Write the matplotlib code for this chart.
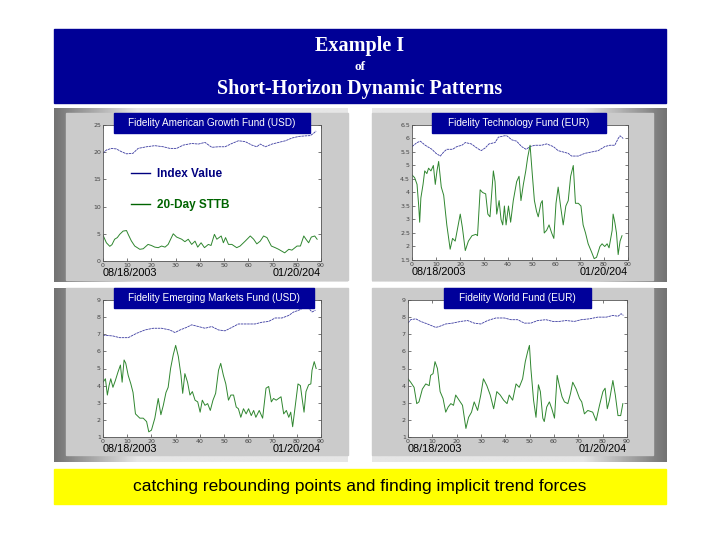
import matplotlib
matplotlib.use("Agg")
import matplotlib.pyplot as plt
import numpy as np
from matplotlib.patches import Rectangle

W, H = 720, 540

# ---- data (x = trading day index) ----
tl_idx_x = [0, 1.4, 3.5, 5.5, 7.6, 9.7, 12.4, 14.5, 18.0, 21.4, 24.9, 27.6, 30.4, 33.1, 36.6, 39.4,
            42.1, 44.9, 47.7, 50.4, 53.2, 55.9, 58.7, 61.5, 63.5, 64.9, 67.0, 69.8, 72.5, 75.3, 78.0,
            80.8, 83.6, 85.6, 87.0, 88.0]
tl_idx_y = [19.8, 20.4, 20.7, 20.6, 20.1, 19.7, 19.8, 20.7, 21.0, 21.2, 21.0, 20.7, 20.7, 21.3, 21.6,
            21.5, 21.8, 20.9, 21.0, 21.0, 21.6, 22.1, 21.95, 21.3, 21.0, 21.5, 21.0, 21.5, 21.8, 22.1,
            22.6, 22.9, 23.0, 23.05, 23.5, 23.9]
tl_sttb_x = [0, 1.4, 2.8, 3.7, 4.8, 5.9, 6.9, 8.3, 9.7, 10.4, 11.7, 13.1, 15.2, 16.6, 18.6, 20.0,
             21.4, 22.8, 24.2, 25.6, 26.9, 29.0, 30.4, 32.5, 33.8, 35.2, 36.6, 38.0, 39.1, 40.5,
             41.9, 43.5, 44.6, 46.0, 47.0, 47.9, 48.8, 49.7, 50.6, 51.8, 53.2, 55.2, 56.6, 58.7,
             60.8, 62.2, 63.5, 64.9, 66.3, 67.7, 69.5, 71.1, 72.5, 75.0, 76.7, 78.0, 80.1, 81.5,
             82.9, 83.8, 84.9, 86.0, 87.4, 88.4]
tl_sttb_y = [4.75, 3.35, 2.7, 3.0, 4.0, 4.3, 4.9, 5.5, 5.6, 4.9, 3.7, 2.75, 2.15, 2.25, 3.05, 2.85,
             2.55, 2.45, 2.75, 2.55, 3.05, 5.0, 4.4, 4.0, 3.55, 4.0, 3.05, 3.65, 2.55, 3.35, 2.45,
             3.05, 2.85, 4.9, 4.0, 4.3, 4.6, 3.35, 4.3, 3.05, 3.05, 2.45, 2.75, 3.65, 4.6, 4.0,
             3.15, 3.65, 4.6, 4.3, 2.75, 2.45, 2.15, 1.5, 2.15, 2.0, 2.75, 2.75, 4.6, 4.0, 3.35,
             4.4, 4.6, 4.0]

tr_idx_x = [0, 2.1, 3.5, 5.5, 8.3, 10.0, 11.8, 13.2, 14.5, 16.9, 18.7, 20.8, 22.2, 24.7, 27.0, 28.8,
            30.5, 32.1, 34.6, 36.0, 38.5, 39.5, 41.6, 43.6, 45.7, 47.5, 49.2, 51.2, 54.0, 56.1,
            58.9, 60.9, 63.0, 65.1, 66.5, 69.3, 72.0, 74.8, 77.6, 80.3, 82.4, 84.5, 85.9, 86.7, 88.0]
tr_idx_y = [5.7, 5.85, 5.9, 5.75, 5.6, 5.45, 5.35, 5.5, 5.6, 5.6, 5.7, 5.75, 5.85, 5.8, 5.65, 5.55,
            5.65, 5.8, 5.85, 6.05, 6.1, 6.1, 5.95, 5.9, 5.7, 5.6, 5.7, 5.75, 5.75, 5.8, 5.7, 5.55,
            5.5, 5.45, 5.35, 5.35, 5.45, 5.5, 5.55, 5.7, 5.75, 5.75, 6.0, 6.1, 6.0]
tr_sttb_x = [0, 1.1, 2.1, 2.8, 3.2, 3.7, 4.6, 5.3, 6.2, 6.9, 7.9, 8.9, 9.7, 10.4, 11.1, 12.2, 13.2,
             14.5, 15.9, 16.9, 18.0, 20.1, 21.0, 22.2, 23.5, 25.0, 26.6, 27.3, 28.4, 29.4, 30.7,
             31.6, 32.5, 33.9, 34.6, 35.3, 36.3, 37.1, 37.8, 38.5, 39.2, 40.2, 41.1, 42.2, 43.6,
             44.6, 45.4, 46.4, 47.4, 48.2, 49.2, 50.1, 51.0, 51.9, 52.6, 53.7, 54.3, 55.1, 56.1,
             57.1, 58.2, 59.1, 60.0, 60.9, 61.9, 63.0, 64.1, 65.1, 66.1, 67.2, 68.1, 69.3, 70.4,
             71.3, 72.3, 73.4, 74.8, 75.9, 76.9, 78.3, 79.2, 80.3, 81.3, 82.1, 82.8, 83.4, 83.8,
             84.5, 85.2, 85.9, 86.7, 87.5]
tr_sttb_y = [4.65, 4.55, 4.3, 3.5, 2.9, 3.8, 4.3, 4.8, 4.7, 4.9, 4.8, 5.0, 4.3, 4.8, 5.15, 4.2, 3.9,
             2.8, 1.9, 2.3, 2.2, 3.2, 2.7, 1.85, 2.2, 2.4, 2.45, 2.4, 4.1, 4.0, 3.95, 3.2, 3.1,
             4.8, 4.4, 3.2, 3.7, 3.0, 2.8, 3.5, 2.8, 3.5, 2.9, 3.7, 4.4, 4.6, 3.7, 4.3, 4.8, 5.3,
             5.75, 4.7, 3.7, 3.3, 3.1, 3.6, 3.7, 2.5, 2.6, 2.8, 2.5, 2.3, 3.6, 4.2, 3.5, 2.8, 3.5,
             3.7, 4.6, 5.0, 3.6, 3.6, 3.5, 2.8, 2.5, 2.1, 1.8, 1.55, 1.6, 2.0, 2.1, 2.0, 2.1, 1.95,
             2.3, 2.6, 3.2, 2.9, 2.5, 1.7, 2.2, 2.4]

bl_idx_x = [0, 4.1, 6.9, 10.4, 13.8, 17.3, 20.7, 24.2, 27.6, 29.7, 31.8, 34.5, 36.6, 39.4, 42.1,
            44.9, 47.7, 50.4, 53.2, 55.9, 59.4, 62.8, 65.6, 68.4, 71.1, 73.9, 76.7, 78.7, 80.8,
            82.9, 85.0, 86.3, 87.7]
bl_idx_y = [6.95, 6.9, 6.8, 6.8, 7.05, 7.25, 7.35, 7.35, 7.25, 7.1, 7.25, 7.4, 7.55, 7.45, 7.35,
            7.45, 7.25, 7.2, 7.4, 7.6, 7.6, 7.6, 7.7, 7.75, 7.95, 7.95, 8.1, 8.3, 8.4, 8.55, 8.5,
            8.3, 8.4]
bl_sttb_x = [0, 1.0, 1.8, 2.5, 3.2, 4.1, 5.1, 6.2, 7.2, 7.9, 8.7, 9.4, 10.4, 11.5, 12.4, 13.4,
             15.2, 16.6, 18.0, 18.9, 20.0, 21.4, 22.8, 23.9, 24.9, 26.0, 26.9, 27.9, 29.0, 30.0,
             31.1, 32.2, 32.9, 33.8, 34.9, 35.9, 36.9, 38.0, 39.1, 40.1, 41.0, 42.1, 43.2, 44.3,
             45.4, 46.5, 47.7, 48.6, 49.7, 50.7, 51.8, 52.8, 53.9, 55.0, 55.9, 56.9, 58.0, 59.1,
             60.1, 61.2, 62.2, 63.1, 64.5, 65.9, 67.3, 68.4, 69.5, 70.4, 71.5, 72.5, 73.5, 74.6,
             75.7, 76.7, 77.5, 78.3, 79.4, 80.5, 81.5, 82.2, 83.0, 83.8, 84.9, 85.8, 86.3, 87.2, 88.0]
bl_sttb_y = [4.2, 4.4, 3.45, 4.0, 4.4, 3.9, 4.3, 4.8, 5.2, 4.2, 5.5, 5.3, 4.6, 4.1, 3.6, 2.35, 2.1,
             2.1, 1.9, 1.3, 1.4, 2.1, 3.25, 2.3, 2.85, 3.6, 3.9, 5.0, 5.8, 6.35, 5.7, 4.6, 3.55,
             4.7, 4.2, 3.45, 3.65, 3.15, 3.05, 2.45, 3.15, 2.85, 2.95, 2.55, 3.15, 3.55, 4.9, 5.3,
             4.6, 4.1, 3.15, 3.45, 3.45, 2.75, 2.65, 2.15, 2.65, 2.35, 2.65, 2.25, 2.55, 2.15,
             2.55, 2.1, 3.85, 3.95, 3.05, 3.25, 3.15, 3.25, 3.35, 2.35, 2.55, 2.15, 2.45, 1.6,
             2.85, 4.1, 4.0, 3.25, 2.45, 3.65, 4.05, 4.1, 4.9, 5.4, 5.0]

br_idx_x = [0, 1.1, 3.2, 5.2, 8.0, 11.4, 12.8, 15.5, 18.3, 21.7, 24.5, 27.2, 29.9, 32.7, 36.1,
            39.6, 42.3, 45.1, 47.8, 50.5, 53.3, 56.7, 59.5, 62.2, 65.0, 68.4, 71.2, 74.6, 78.0,
            81.5, 84.2, 86.3, 87.6, 88.5]
br_idx_y = [7.65, 7.85, 7.9, 7.75, 7.6, 7.4, 7.45, 7.6, 7.65, 7.75, 7.8, 7.65, 7.6, 7.8, 7.95,
            7.95, 7.85, 7.85, 7.65, 7.65, 7.8, 7.85, 7.75, 7.75, 7.8, 7.75, 7.85, 7.9, 8.0, 8.0,
            8.1, 8.05, 8.2, 8.1]
br_sttb_x = [0, 1.1, 2.5, 3.6, 4.5, 5.9, 7.3, 8.7, 9.3, 10.3, 11.1, 12.1, 13.2, 14.4, 15.5, 16.5,
             17.6, 18.7, 19.6, 21.0, 22.4, 23.8, 24.9, 26.1, 27.2, 28.6, 29.9, 31.0, 32.4, 33.8,
             35.2, 36.5, 37.9, 39.3, 40.7, 41.6, 43.0, 44.4, 45.7, 47.1, 48.2, 49.2, 49.9, 50.5,
             51.6, 52.6, 53.6, 54.4, 55.4, 56.0, 57.0, 58.1, 59.1, 60.2, 61.3, 62.2, 63.3, 64.3,
             65.7, 66.8, 67.7, 69.1, 70.5, 71.4, 72.5, 73.9, 75.9, 77.3, 78.7, 80.1, 81.0, 81.9,
             82.8, 84.2, 85.2, 86.3, 87.4, 88.3]
br_sttb_y = [4.4, 4.2, 3.9, 2.95, 3.05, 3.8, 4.1, 4.0, 4.6, 4.7, 5.4, 5.0, 3.65, 3.25, 2.45, 2.75,
             2.95, 2.85, 3.45, 3.15, 2.85, 1.5, 2.15, 2.45, 3.05, 2.55, 3.45, 4.4, 4.0, 3.45, 2.65,
             3.65, 3.45, 3.15, 2.95, 3.45, 3.15, 4.1, 3.9, 4.4, 5.4, 6.0, 6.35, 5.0, 3.15, 2.15,
             4.05, 3.65, 2.1, 1.9, 2.75, 3.05, 2.65, 2.1, 4.6, 4.0, 3.35, 3.05, 2.95, 3.55, 4.2,
             3.8, 3.25, 3.05, 2.35, 2.55, 2.45, 1.95, 2.85, 3.65, 3.85, 2.65, 3.15, 4.3, 3.45,
             2.25, 2.25, 2.95]

titles = ["Fidelity American Growth Fund (USD)", "Fidelity Technology Fund (EUR)",
          "Fidelity Emerging Markets Fund (USD)", "Fidelity World Fund (EUR)"]
start_date, end_date = "08/18/2003", "01/20/204"
tl_yticks = [0, 5, 10, 15, 20, 25]
tr_yticks = [1.5, 2, 2.5, 3, 3.5, 4, 4.5, 5, 5.5, 6, 6.5]
bot_yticks = [1, 2, 3, 4, 5, 6, 7, 8, 9]
x_ticks = [0, 10, 20, 30, 40, 50, 60, 70, 80, 90]

NAVY = "#000096"
IDX_C = "#3a3aa0"
STTB_C = "#2f862f"
NARROW = ["Liberation Sans Narrow", "Liberation Sans", "DejaVu Sans"]

fig = plt.figure(figsize=(7.2, 5.4), dpi=100)
fig.patch.set_facecolor("white")


def px_axes(x0, y0, x1, y1, **kw):
    return fig.add_axes([x0 / W, 1 - y1 / H, (x1 - x0) / W, (y1 - y0) / H], **kw)


# background layer: header, grey frames, yellow footer
bg = px_axes(0, 0, W, H, zorder=-1)
bg.axis("off")
bg.add_patch(Rectangle((54, 29), 612, 74, color=NAVY))
bg.add_patch(Rectangle((54, 469), 612, 35, color="#ffff00"))

frames = [  # outer rect, inner rect, dark side
    ((54, 108, 348, 282), (66, 113, 348, 280), "left"),
    ((372, 108, 667, 282), (372, 113, 653, 280), "right"),
    ((54, 288, 348, 462), (66, 288, 348, 455), "left"),
    ((372, 288, 667, 462), (372, 288, 653, 455), "right"),
]
for (ox0, oy0, ox1, oy1), (ix0, iy0, ix1, iy1), side in frames:
    t = np.linspace(0, 1, 200)
    g = np.clip(0.45 + 1.6 * t, 0, 0.9)
    if side == "right":
        g = g[::-1]
    bg.imshow(g[None, :], cmap="gray", vmin=0, vmax=1, aspect="auto",
              extent=(ox0, ox1, oy1, oy0), interpolation="bilinear")
    bg.add_patch(Rectangle((ix0, iy0), ix1 - ix0, iy1 - iy0, color="#cbcbcb"))
bg.set_xlim(0, W)
bg.set_ylim(H, 0)

bg.text(360, 46, "Example I", ha="center", va="center", color="white",
        family="Liberation Serif", weight="bold", fontsize=14.5)
bg.text(360, 67, "of", ha="center", va="center", color="white",
        family="Liberation Serif", weight="bold", fontsize=9.5)
bg.text(360, 89, "Short-Horizon Dynamic Patterns", ha="center", va="center", color="white",
        family="Liberation Serif", weight="bold", fontsize=14.5)
bg.text(360, 487, "catching rebounding points and finding implicit trend forces",
        ha="center", va="center", color="black", family="Liberation Sans", fontsize=12.5)

panels = [
    ((103, 125, 321, 261), tl_idx_x, tl_idx_y, tl_sttb_x, tl_sttb_y, (0, 25), tl_yticks),
    ((412, 125, 628, 260), tr_idx_x, tr_idx_y, tr_sttb_x, tr_sttb_y, (1.5, 6.5), tr_yticks),
    ((103, 300, 321, 437), bl_idx_x, bl_idx_y, bl_sttb_x, bl_sttb_y, (1, 9), bot_yticks),
    ((408, 300, 627, 437), br_idx_x, br_idx_y, br_sttb_x, br_sttb_y, (1, 9), bot_yticks),
]
axes = []
for (x0, y0, x1, y1), ix, iy, sx, sy, ylim, yt in panels:
    ax = px_axes(x0, y0, x1, y1)
    ax.set_facecolor("white")
    li, = ax.plot(ix, iy, color=IDX_C, lw=0.6, ls=(0, (3, 0.8)))
    ls_, = ax.plot(sx, sy, color=STTB_C, lw=0.7)
    ax.set_xlim(0, 90)
    ax.set_ylim(*ylim)
    ax.set_xticks(x_ticks)
    ax.set_yticks(yt)
    ax.set_yticklabels([f"{v:g}" for v in yt])
    ax.tick_params(direction="in", length=2, width=0.5, labelsize=4.5, colors="#444444",
                   top=True, right=True, pad=1.5)
    for s in ax.spines.values():
        s.set_linewidth(0.6)
        s.set_color("#555555")
    axes.append((ax, li, ls_))
    ax.text(0, -0.09, start_date, transform=ax.transAxes, ha="left", va="center",
            family=NARROW, fontsize=7.8)
    ax.text(1.0, -0.09, end_date, transform=ax.transAxes, ha="right", va="center",
            family=NARROW, fontsize=7.8)

ax0, l_idx, l_sttb = axes[0]
leg = ax0.legend([l_idx, l_sttb], ["Index Value", "20-Day STTB"], loc="upper left",
                 bbox_to_anchor=(0.13, 0.685), frameon=False, borderpad=0, borderaxespad=0,
                 handlelength=1.6, handletextpad=0.6, labelspacing=1.6,
                 prop={"family": "Liberation Sans", "weight": "bold", "size": 8.5},
                 labelcolor=["#000080", "#006400"])
for h in leg.legend_handles:
    h.set_linestyle("-")
    h.set_linewidth(1.0)
leg.legend_handles[0].set_color("#000080")
leg.legend_handles[1].set_color("#006400")

# overlay layer: panel title boxes sit on top of the plots
ov = px_axes(0, 0, W, H, zorder=5)
ov.axis("off")
ov.set_xlim(0, W)
ov.set_ylim(H, 0)
boxes = [(114, 113, 310, 133), (432, 113, 606, 133), (114, 288, 314, 308), (444, 288, 591, 308)]
for (x0, y0, x1, y1), title in zip(boxes, titles):
    ov.add_patch(Rectangle((x0, y0), x1 - x0, y1 - y0, color="#00009a"))
    ov.text((x0 + x1) / 2, (y0 + y1) / 2, title, ha="center", va="center", color="white",
            family="Liberation Sans", fontsize=7.2)

fig.savefig("out.png", dpi=100)
